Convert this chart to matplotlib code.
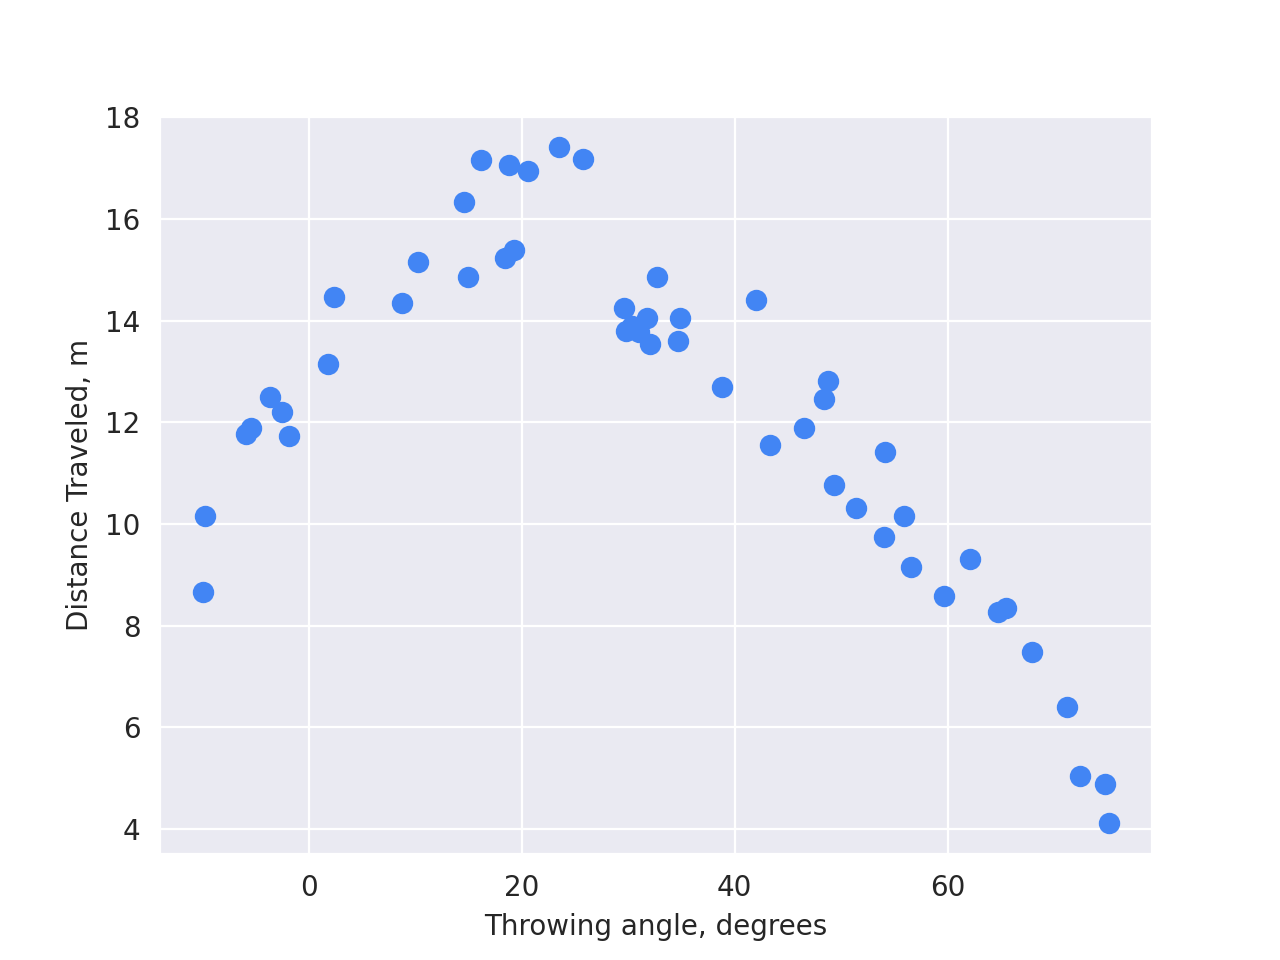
import matplotlib
matplotlib.use("Agg")
import matplotlib.pyplot as plt
import seaborn as sns

angle = [-9.7, -9.9, -5.85, -5.4, -3.6, -2.5, -1.8, 1.8, 2.4, 8.8, 10.3, 14.6, 15.0, 16.2,
         18.4, 18.8, 19.3, 20.6, 23.5, 25.75, 29.6, 29.8, 30.4, 31.0, 31.8, 32.1, 32.7, 34.7,
         34.9, 38.8, 42.0, 43.3, 46.5, 48.4, 48.8, 49.3, 51.4, 54.0, 54.1, 55.9, 56.6, 59.7,
         62.1, 64.7, 65.5, 67.9, 71.2, 72.4, 74.8, 75.2]
distance = [10.15, 8.67, 11.77, 11.89, 12.5, 12.2, 11.73, 13.14, 14.46, 14.34, 15.15, 16.34,
            14.86, 17.15, 15.23, 17.07, 15.39, 16.95, 17.41, 17.17, 14.24, 13.79, 13.89, 13.77,
            14.05, 13.53, 14.86, 13.59, 14.06, 12.70, 14.40, 11.55, 11.89, 12.46, 12.82, 10.76,
            10.31, 9.75, 11.42, 10.15, 9.16, 8.59, 9.32, 8.27, 8.35, 7.48, 6.39, 5.05, 4.89, 4.12]

sns.set_style("darkgrid")
fig, ax = plt.subplots(figsize=(6.4, 4.8), dpi=200)
ax.scatter(angle, distance, color="#4285F4", s=45)
ax.set_xlim(-13.96, 79.2)
ax.set_ylim(3.5, 18.04)
ax.set_xticks([0, 20, 40, 60])
ax.set_xlabel("Throwing angle, degrees")
ax.set_ylabel("Distance Traveled, m")
fig.savefig("out.png")
